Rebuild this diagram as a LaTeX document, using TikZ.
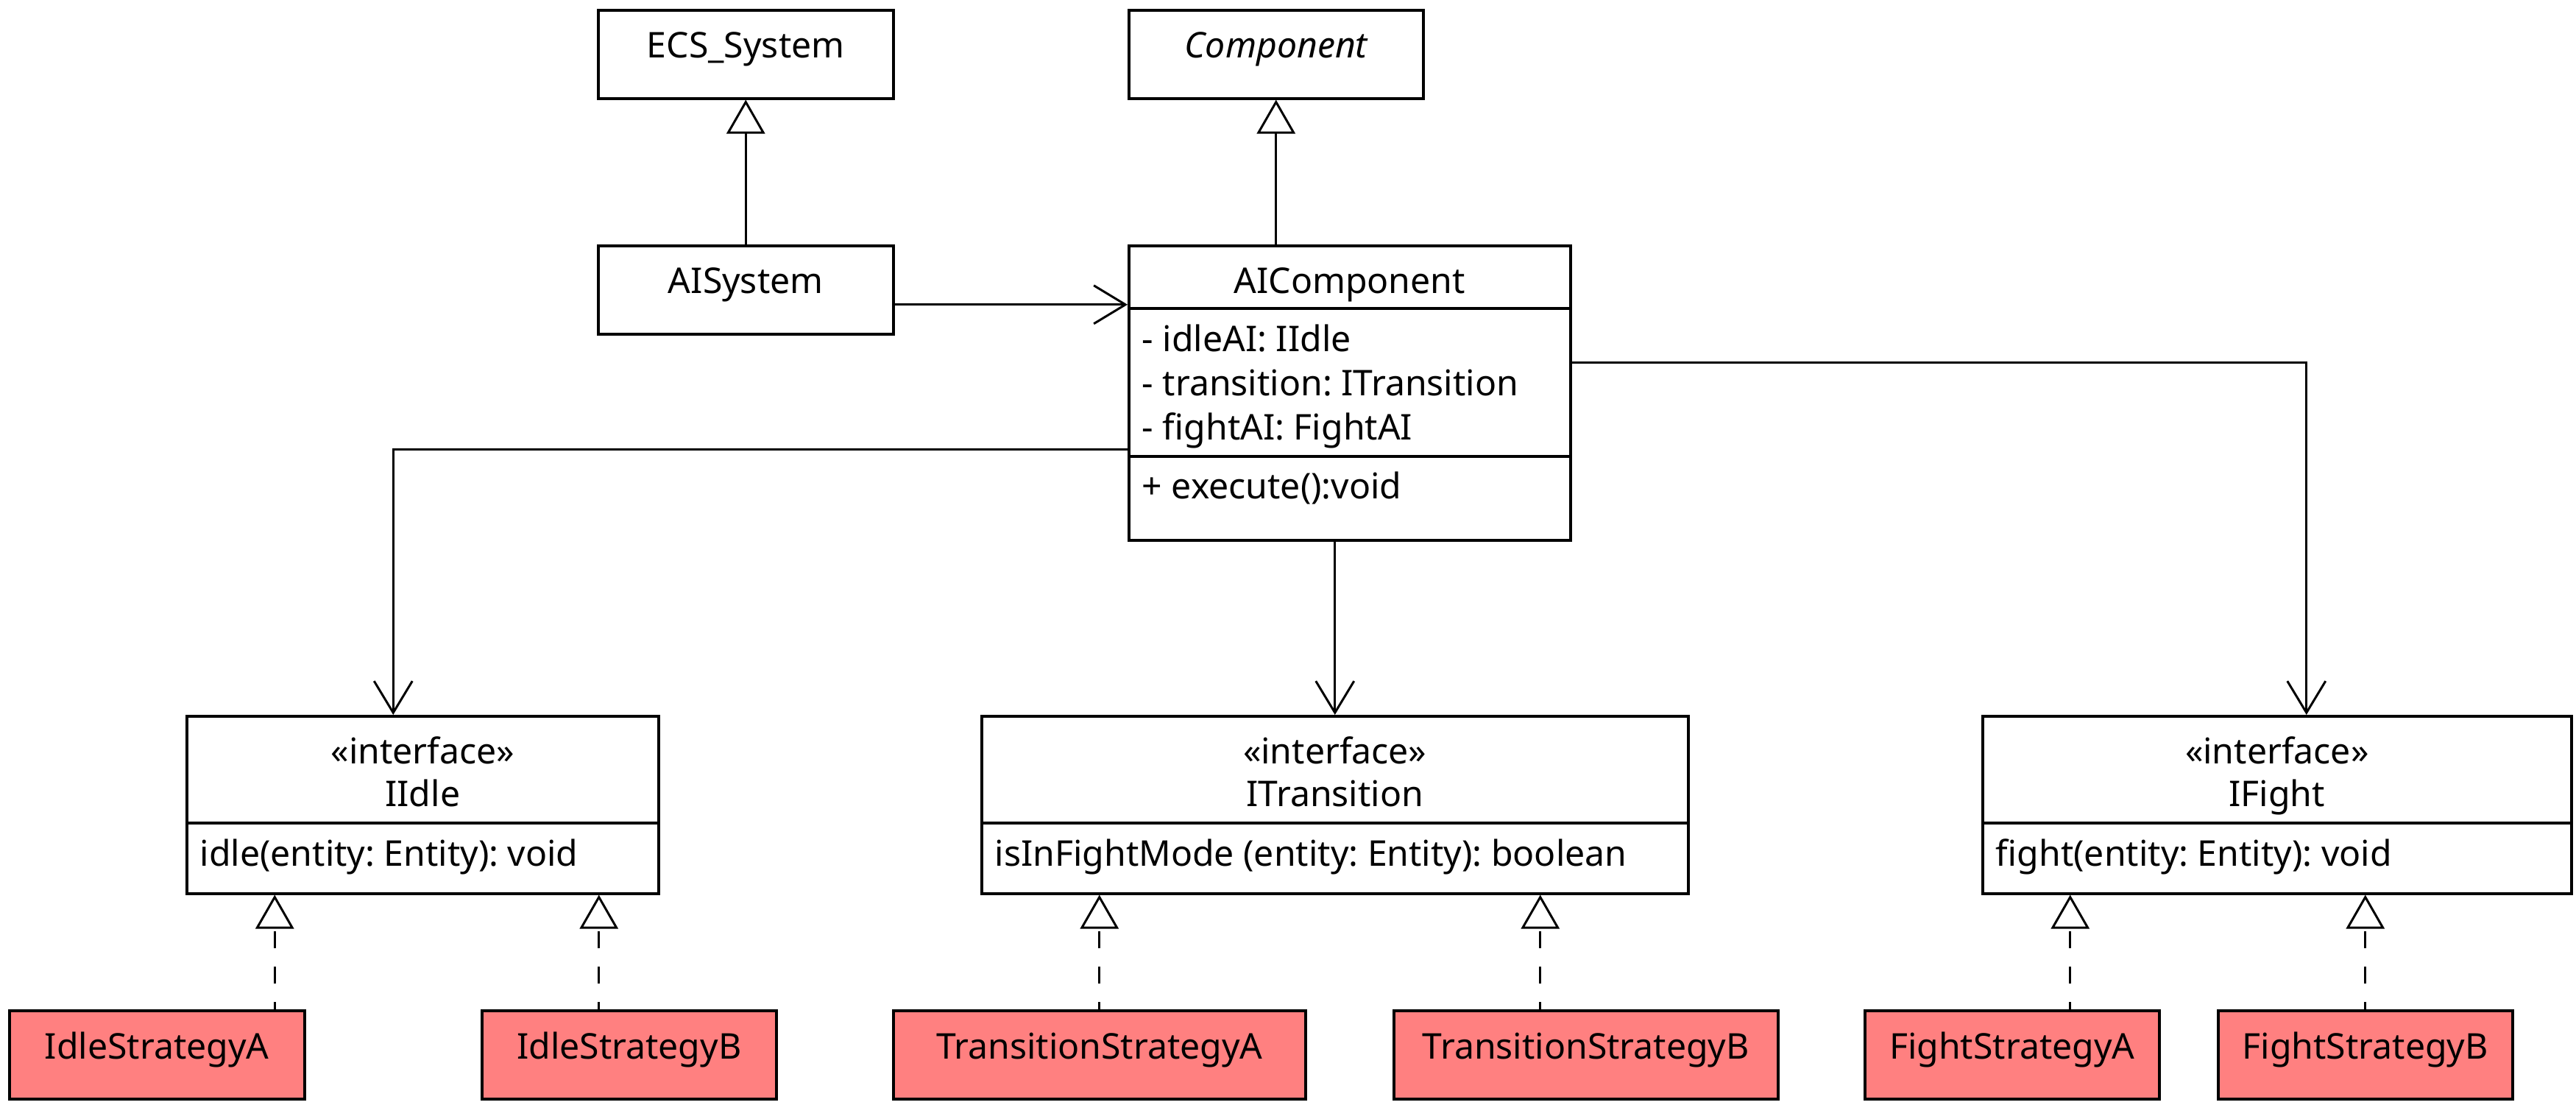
\documentclass[tikz,border=0pt]{standalone}
\usepackage{fontspec}
\setmainfont{Noto Sans}
\usetikzlibrary{arrows.meta,positioning,calc}
\definecolor{strategyred}{HTML}{FF8080}
\frenchspacing

\tikzset{
  classbox/.style={draw, line width=1pt, anchor=north west, inner sep=0pt, minimum height=1.2cm},
  strategybox/.style={classbox, fill=strategyred},
  umltext/.style={font=\fontsize{13.7}{16.8}\selectfont, inner sep=0pt},
  sepline/.style={line width=1pt},
  assoc/.style={line width=0.85pt, -{Straight Barb[length=0.43cm, width=0.52cm]}},
  inherit/.style={line width=0.85pt, -{Triangle[open, length=0.46cm, width=0.52cm]}},
  realize/.style={inherit, dash pattern=on 0.23cm off 0.25cm, dash phase=0.13cm}
}

\begin{document}
\begin{tikzpicture}
\useasboundingbox (0,0) rectangle (35,-15);
% top row
\node[classbox, minimum width=4.01cm] (ecs) at (8.11,-0.12) {};
\node[umltext, anchor=base] (ecsname) at ($(ecs.north)+(0,-0.66)$) {ECS\_System};
\node[classbox, minimum width=4cm] (comp) at (15.32,-0.12) {};
\node[umltext, anchor=base, font=\fontsize{13.7}{16.8}\selectfont\itshape] (compname) at ($(comp.north)+(0,-0.66)$) {Component};
% system and component
\node[classbox, minimum width=4.01cm] (aisys) at (8.11,-3.32) {};
\node[umltext, anchor=base] (aisysname) at ($(aisys.north)+(0,-0.66)$) {AISystem};
\node[classbox, minimum width=6cm, minimum height=4cm] (aicomp) at (15.32,-3.32) {};
\node[umltext, anchor=base] (aicompname) at ($(aicomp.north)+(0,-0.66)$) {AIComponent};
\draw[sepline] ($(aicomp.north west)+(0,-0.87)$) -- ($(aicomp.north east)+(0,-0.87)$);
\foreach \t [count=\k] in {- idleAI: IIdle, - transition: ITransition, - fightAI: FightAI} {
  \node[umltext, anchor=base west] (attr\k) at ($(aicomp.north west)+(0.19,-1.45-0.6*\k+0.6)$) {\t};
}
\draw[sepline] ($(aicomp.north west)+(0,-2.88)$) -- ($(aicomp.north east)+(0,-2.88)$);
\node[umltext, anchor=base west] (execute) at ($(aicomp.north west)+(0.19,-3.45)$) {+ execute():void};
% interfaces
\foreach \n/\x/\w/\name/\meth in {iidle/2.52/6.41/IIdle/idle(entity: Entity): void,
    itrans/13.32/9.6/ITransition/isInFightMode (entity: Entity): boolean,
    ifight/26.92/8/IFight/fight(entity: Entity): void} {
  \node[classbox, minimum width=\w cm, minimum height=2.41cm] (\n) at (\x,-9.71) {};
  \node[umltext, anchor=base] (\n stereo) at ($(\n.north)+(0,-0.66)$) {«interface»};
  \node[umltext, anchor=base] (\n name) at ($(\n.north)+(0,-1.24)$) {\name};
  \draw[sepline] ($(\n.north west)+(0,-1.47)$) -- ($(\n.north east)+(0,-1.47)$);
  \node[umltext, anchor=base west] (\n meth) at ($(\n.north west)+(0.19,-2.05)$) {\meth};
}
% strategies
\foreach \n/\x/\w/\name in {idleA/0.11/4.01/IdleStrategyA, idleB/6.53/4/IdleStrategyB,
    transA/12.12/5.6/TransitionStrategyA, transB/18.92/5.22/TransitionStrategyB,
    fightA/25.32/4/FightStrategyA, fightB/30.12/4/FightStrategyB} {
  \node[strategybox, minimum width=\w cm] (\n) at (\x,-13.71) {};
  \node[umltext, anchor=base] (\n name) at ($(\n.north)+(0,-0.67)$) {\name};
}
% connectors
\draw[inherit] (aisys.north) -- (ecs.south);
\draw[inherit] (aicomp.north -| comp.south) -- (comp.south);
\draw[assoc] ($(aisys.east)+(0,-0.2)$) coordinate (sysout) -- (sysout -| aicomp.west);
\draw[assoc] (aicomp.west |- 0,-6.1) -| ($(iidle.north)+(-0.4,0)$);
\draw[assoc] (itrans.north |- aicomp.south) -- (itrans.north);
\draw[assoc] (aicomp.east |- 0,-4.92) -| ($(ifight.north)+(0.4,0)$);
\foreach \s/\i/\dx in {idleA/iidle/1.6, idleB/iidle/-0.41, transA/itrans/0,
    transB/itrans/-0.62, fightA/ifight/0.79, fightB/ifight/0} {
  \draw[realize] ($(\s.north)+(\dx,0)$) coordinate (start) -- (start |- \i.south);
}
\end{tikzpicture}
\end{document}
